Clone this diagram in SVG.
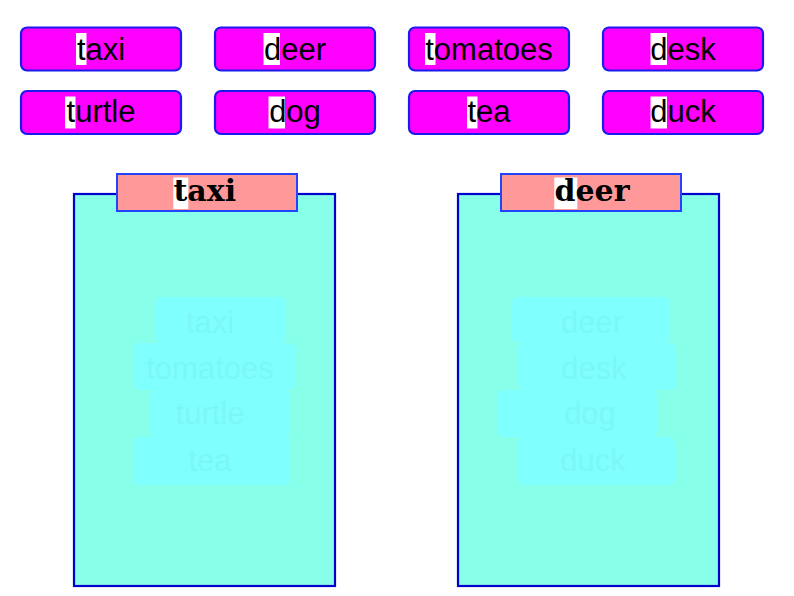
<svg xmlns="http://www.w3.org/2000/svg" width="794" height="596" viewBox="0 0 794 596">
<style>
.card{fill:#ff00ff;stroke:#1a1aee;stroke-width:2.2}
.ct{font-family:"Liberation Sans",Arial,sans-serif;font-size:31px;fill:#000;text-anchor:middle}
.hl{fill:#ffffff}
.panel{fill:#88ffe8;stroke:#0000cc;stroke-width:2.2}
.head{fill:#ff9999;stroke:#2244ff;stroke-width:2}
.ht{font-family:"DejaVu Serif","Liberation Serif",serif;font-weight:bold;font-size:30px;fill:#000}
.ghost{fill:#80ffff}
.gt{font-family:"Liberation Sans",Arial,sans-serif;font-size:31px;fill:#7bf7f7;text-anchor:middle}
</style>
<rect width="794" height="596" fill="#ffffff"/>

<g id="card-taxi">
<rect class="card" x="21" y="27.5" width="160" height="43" rx="6"/>
<rect class="hl" x="76" y="33" width="10.5" height="32"/>
<text class="ct" x="101" y="59.5">taxi</text>
</g>
<g id="card-deer">
<rect class="card" x="215" y="27.5" width="160" height="43" rx="6"/>
<rect class="hl" x="263.5" y="33" width="16.5" height="32"/>
<text class="ct" x="295" y="59.5">deer</text>
</g>
<g id="card-tomatoes">
<rect class="card" x="409" y="27.5" width="160" height="43" rx="6"/>
<rect class="hl" x="425" y="33" width="10.5" height="32"/>
<text class="ct" x="489" y="59.5">tomatoes</text>
</g>
<g id="card-desk">
<rect class="card" x="603" y="27.5" width="160" height="43" rx="6"/>
<rect class="hl" x="650.5" y="33" width="16.5" height="32"/>
<text class="ct" x="683" y="59.5">desk</text>
</g>
<g id="card-turtle">
<rect class="card" x="21" y="91" width="160" height="43" rx="6"/>
<rect class="hl" x="65" y="96.5" width="10.5" height="32"/>
<text class="ct" x="101" y="122">turtle</text>
</g>
<g id="card-dog">
<rect class="card" x="215" y="91" width="160" height="43" rx="6"/>
<rect class="hl" x="268.5" y="96.5" width="16.5" height="32"/>
<text class="ct" x="295" y="122">dog</text>
</g>
<g id="card-tea">
<rect class="card" x="409" y="91" width="160" height="43" rx="6"/>
<rect class="hl" x="467" y="96.5" width="10.5" height="32"/>
<text class="ct" x="489" y="122">tea</text>
</g>
<g id="card-duck">
<rect class="card" x="603" y="91" width="160" height="43" rx="6"/>
<rect class="hl" x="650.5" y="96.5" width="16.5" height="32"/>
<text class="ct" x="683" y="122">duck</text>
</g>

<g id="bin-taxi">
<rect class="panel" x="74" y="194" width="261" height="392"/>
<rect class="ghost" x="155" y="297" width="130" height="46" rx="6"/>
<rect class="ghost" x="133" y="343" width="162" height="47" rx="6"/>
<rect class="ghost" x="150" y="390" width="140" height="47" rx="6"/>
<rect class="ghost" x="133" y="437" width="157" height="48" rx="6"/>
<text class="gt" x="210" y="333">taxi</text>
<text class="gt" x="210" y="379">tomatoes</text>
<text class="gt" x="210" y="424">turtle</text>
<text class="gt" x="210" y="471">tea</text>
<rect class="head" x="117" y="174" width="180" height="37"/>
<rect class="hl" x="173.3" y="177.5" width="15" height="31.5"/>
<text class="ht" x="173.5" y="201">taxi</text>
</g>

<g id="bin-deer">
<rect class="panel" x="458" y="194" width="261" height="392"/>
<rect class="ghost" x="512" y="297" width="158" height="46" rx="6"/>
<rect class="ghost" x="518" y="343" width="158" height="47" rx="6"/>
<rect class="ghost" x="497" y="390" width="160" height="47" rx="6"/>
<rect class="ghost" x="518" y="437" width="157" height="48" rx="6"/>
<text class="gt" x="592" y="333">deer</text>
<text class="gt" x="594" y="379">desk</text>
<text class="gt" x="590" y="424">dog</text>
<text class="gt" x="593" y="471">duck</text>
<rect class="head" x="501" y="174" width="180" height="37"/>
<rect class="hl" x="554.3" y="177.5" width="23" height="31.5"/>
<text class="ht" x="554.5" y="201">deer</text>
</g>
</svg>
